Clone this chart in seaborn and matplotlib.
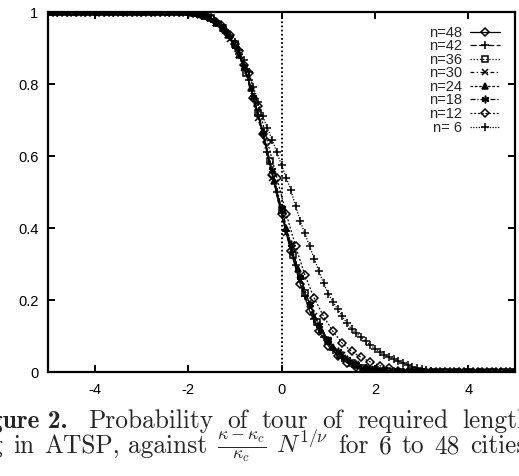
import matplotlib
matplotlib.use("Agg")
import matplotlib.pyplot as plt
import seaborn as sns

# values (scaled variable vs probability)
x48 = [-5.0, -4.8, -4.6, -4.4, -4.2, -4.0, -3.8, -3.6, -3.4, -3.2, -3.0, -2.8, -2.6, -2.4, -2.2, -2.0,
       -1.8, -1.6, -1.4, -1.2, -1.0, -0.8, -0.6, -0.4, -0.2, 0.0, 0.2, 0.4, 0.6, 0.8, 1.0, 1.2, 1.4, 1.6, 1.8, 2.0,
       2.2, 2.4, 2.6, 2.8, 3.0, 3.2, 3.4, 3.6, 3.8, 4.0, 4.2, 4.4, 4.6, 4.8, 5.0]
y48 = [1.0, 1.0, 1.0, 1.0, 1.0, 1.0, 1.0, 1.0, 1.0, 1.0, 1.0, 1.0, 1.0, 1.0, 1.0, 1.0,
       0.996, 0.988, 0.972, 0.948, 0.91, 0.852, 0.762, 0.66, 0.548, 0.438, 0.335, 0.245, 0.17, 0.113, 0.073, 0.045,
       0.026, 0.014, 0.007, 0.003,
       0.0, 0.0, 0.0, 0.0, 0.0, 0.0, 0.0, 0.0, 0.0, 0.0, 0.0, 0.0, 0.0, 0.0, 0.0]

x42 = [-4.9, -4.7, -4.5, -4.3, -4.1, -3.9, -3.7, -3.5, -3.3, -3.1, -2.9, -2.7, -2.5, -2.3, -2.1,
       -1.9, -1.7, -1.5, -1.3, -1.1, -0.9, -0.7, -0.5, -0.3, -0.1, 0.1, 0.3, 0.5, 0.7, 0.9, 1.1, 1.3, 1.5, 1.7, 1.9, 2.1,
       2.3, 2.5, 2.7, 2.9, 3.1, 3.3, 3.5, 3.7, 3.9, 4.1, 4.3, 4.5, 4.7, 4.9]
y42 = [1.0, 1.0, 1.0, 1.0, 1.0, 1.0, 1.0, 1.0, 1.0, 1.0, 1.0, 1.0, 1.0, 1.0, 1.0,
       0.997, 0.992, 0.981, 0.962, 0.93, 0.882, 0.81, 0.715, 0.61, 0.5, 0.392, 0.296, 0.212, 0.146, 0.097, 0.062,
       0.038, 0.022, 0.011, 0.005, 0.002,
       0.0, 0.0, 0.0, 0.0, 0.0, 0.0, 0.0, 0.0, 0.0, 0.0, 0.0, 0.0, 0.0, 0.0]

x36 = [-5.0, -4.75, -4.5, -4.25, -4.0, -3.75, -3.5, -3.25, -3.0, -2.75, -2.5, -2.25, -2.0,
       -1.75, -1.5, -1.25, -1.0, -0.75, -0.5, -0.25, 0.0, 0.25, 0.5, 0.75, 1.0, 1.25, 1.5, 1.75, 2.0, 2.25,
       2.5, 2.75, 3.0, 3.25, 3.5, 3.75, 4.0, 4.25, 4.5, 4.75, 5.0]
y36 = [1.0, 1.0, 1.0, 1.0, 1.0, 1.0, 1.0, 1.0, 1.0, 1.0, 1.0, 1.0, 1.0,
       0.995, 0.982, 0.955, 0.91, 0.83, 0.72, 0.585, 0.45, 0.325, 0.22, 0.14, 0.085, 0.048, 0.026, 0.012, 0.005, 0.002,
       0.0, 0.0, 0.0, 0.0, 0.0, 0.0, 0.0, 0.0, 0.0, 0.0, 0.0]

x30 = [-5.0, -4.7, -4.4, -4.1, -3.8, -3.5, -3.2, -2.9, -2.6, -2.3, -2.0,
       -1.7, -1.4, -1.1, -0.8, -0.5, -0.2, 0.1, 0.4, 0.7, 1.0, 1.3, 1.6, 1.9, 2.2,
       2.5, 2.8, 3.1, 3.4, 3.7, 4.0, 4.3, 4.6, 4.9]
y30 = [1.0, 1.0, 1.0, 1.0, 1.0, 1.0, 1.0, 1.0, 1.0, 1.0, 1.0,
       0.992, 0.97, 0.925, 0.845, 0.705, 0.54, 0.385, 0.255, 0.155, 0.088, 0.046, 0.022, 0.009, 0.003,
       0.0, 0.0, 0.0, 0.0, 0.0, 0.0, 0.0, 0.0, 0.0]

x24 = [-4.9, -4.65, -4.4, -4.15, -3.9, -3.65, -3.4, -3.15, -2.9, -2.65, -2.4, -2.15,
       -1.9, -1.65, -1.4, -1.15, -0.9, -0.65, -0.4, -0.15, 0.1, 0.35, 0.6, 0.85, 1.1, 1.35, 1.6, 1.85, 2.1,
       2.35, 2.6, 2.85, 3.1, 3.35, 3.6, 3.85, 4.1, 4.35, 4.6, 4.85]
y24 = [1.0, 1.0, 1.0, 1.0, 1.0, 1.0, 1.0, 1.0, 1.0, 1.0, 1.0, 1.0,
       0.997, 0.988, 0.97, 0.935, 0.88, 0.79, 0.67, 0.53, 0.4, 0.285, 0.19, 0.118, 0.07, 0.038, 0.019, 0.008, 0.003,
       0.0, 0.0, 0.0, 0.0, 0.0, 0.0, 0.0, 0.0, 0.0, 0.0, 0.0]

x18 = [-4.8, -4.6, -4.4, -4.2, -4.0, -3.8, -3.6, -3.4, -3.2, -3.0, -2.8, -2.6, -2.4, -2.2,
       -2.0, -1.8, -1.6, -1.4, -1.2, -1.0, -0.8, -0.6, -0.4, -0.2, 0.0, 0.2, 0.4, 0.6, 0.8, 1.0, 1.2, 1.4, 1.6, 1.8,
       2.0, 2.2,
       2.4, 2.6, 2.8, 3.0, 3.2, 3.4, 3.6, 3.8, 4.0, 4.2, 4.4, 4.6, 4.8, 5.0]
y18 = [1.0, 1.0, 1.0, 1.0, 1.0, 1.0, 1.0, 1.0, 1.0, 1.0, 1.0, 1.0, 1.0, 1.0,
       0.998, 0.994, 0.986, 0.971, 0.946, 0.906, 0.848, 0.765, 0.665, 0.56, 0.455, 0.355, 0.265, 0.19, 0.13, 0.088,
       0.058, 0.036, 0.022, 0.012, 0.006, 0.002,
       0.0, 0.0, 0.0, 0.0, 0.0, 0.0, 0.0, 0.0, 0.0, 0.0, 0.0, 0.0, 0.0, 0.0]

x12 = [-4.9, -4.7, -4.5, -4.3, -4.1, -3.9, -3.7, -3.5, -3.3, -3.1, -2.9, -2.7, -2.5, -2.3, -2.1,
       -1.9, -1.7, -1.5, -1.3, -1.1, -0.9, -0.7, -0.5, -0.3, -0.1, 0.1, 0.3, 0.5, 0.7, 0.9, 1.1, 1.3, 1.5, 1.7, 1.9,
       2.1, 2.3, 2.5, 2.7,
       2.9, 3.1, 3.3, 3.5, 3.7, 3.9, 4.1, 4.3, 4.5, 4.7, 4.9]
y12 = [1.0, 1.0, 1.0, 1.0, 1.0, 1.0, 1.0, 1.0, 1.0, 1.0, 1.0, 1.0, 1.0, 1.0, 1.0,
       0.997, 0.992, 0.982, 0.964, 0.936, 0.892, 0.83, 0.74, 0.64, 0.54, 0.44, 0.35, 0.27, 0.205, 0.155, 0.113,
       0.08, 0.057, 0.041, 0.028, 0.018, 0.01, 0.004, 0.001,
       0.0, 0.0, 0.0, 0.0, 0.0, 0.0, 0.0, 0.0, 0.0, 0.0, 0.0]

x6 = [-5.0, -4.8, -4.6, -4.4, -4.2, -4.0, -3.8, -3.6, -3.4, -3.2, -3.0, -2.8, -2.6, -2.4, -2.2,
      -2.0, -1.9, -1.8, -1.7, -1.6, -1.5, -1.4, -1.3, -1.2, -1.1, -1.0, -0.9, -0.8, -0.7, -0.6, -0.5,
      -0.4, -0.3, -0.2, -0.1, 0.0, 0.1, 0.2, 0.3, 0.4, 0.5, 0.6, 0.7, 0.8, 0.9, 1.0, 1.1, 1.2, 1.3, 1.4,
      1.5, 1.6, 1.7, 1.8, 1.9, 2.0, 2.1, 2.2, 2.3, 2.4, 2.5, 2.6, 2.7, 2.8, 2.9, 3.0, 3.1, 3.2, 3.3, 3.4,
      3.6, 3.8, 4.0, 4.2, 4.4, 4.6, 4.8, 5.0]
y6 = [1.0, 1.0, 1.0, 1.0, 1.0, 1.0, 1.0, 1.0, 1.0, 1.0, 1.0, 1.0, 1.0, 1.0, 1.0,
      0.998, 0.996, 0.994, 0.991, 0.987, 0.981, 0.973, 0.963, 0.951, 0.937, 0.918, 0.895, 0.868, 0.832, 0.792, 0.75,
      0.71, 0.677, 0.645, 0.61, 0.575, 0.54, 0.505, 0.462, 0.42, 0.385, 0.35, 0.315, 0.28, 0.247, 0.218, 0.195,
      0.175, 0.155, 0.135, 0.12, 0.108, 0.096, 0.085, 0.075, 0.065, 0.056, 0.048, 0.041, 0.035, 0.03, 0.025,
      0.02, 0.015, 0.011, 0.008, 0.005, 0.003, 0.001, 0.0,
      0.0, 0.0, 0.0, 0.0, 0.0, 0.0, 0.0, 0.0]

labels = ["n=48", "n=42", "n=36", "n=30", "n=24", "n=18", "n=12", "n= 6"]
xticks = [-4, -2, 0, 2, 4]
xtick_labels = ["-4", "-2", "0", "2", "4"]
yticks = [0, 0.2, 0.4, 0.6, 0.8, 1]
ytick_labels = ["0", "0.2", "0.4", "0.6", "0.8", "1"]

# caption words (the scan is cropped on both sides of the page)
line1_words = ["Probability", "of", "tour", "of", "required", "length", "existing"]
line2_left = ["scaling", "in", "ATSP,"]
line2_right = ["against", r"$\frac{\kappa-\kappa_c}{\kappa_c}$", r"$N^{1/\nu}$",
               "for", "6", "to", "48", "cities."]

series = [(x48, y48), (x42, y42), (x36, y36), (x30, y30),
          (x24, y24), (x18, y18), (x12, y12), (x6, y6)]

# gnuplot-like point types and dash patterns
markers = ["D", "+", "s", "x", "^", (6, 2, 0), "D", "+"]
filled = [False, True, False, True, True, True, False, True]
msizes = [3.6, 5.5, 4.0, 4.5, 4.3, 5.5, 4.0, 6.0]
dashes = ["-", (0, (5, 2)), (0, (1, 1.5)), (0, (3, 2, 1, 2)), (0, (2, 1.5)),
          (0, (4, 1.5, 1, 1.5)), (0, (1.5, 1.5)), (0, (1, 1.2))]

sns.set_style("ticks")
plt.rcParams['font.family'] = ['Liberation Sans', 'DejaVu Sans']
plt.rcParams['axes.unicode_minus'] = False
plt.rcParams['mathtext.fontset'] = 'cm'

fig = plt.figure(figsize=(5.19, 4.76), dpi=100)
ax = fig.add_axes([48 / 519, 104 / 476, 467 / 519, 360 / 476])

for (xs, ys), lab, mk, fl, ms, ls in zip(series, labels, markers, filled, msizes, dashes):
    sns.lineplot(x=xs, y=ys, ax=ax, color="black", estimator=None, label=lab,
                 marker=mk, markersize=ms, linestyle=ls, linewidth=0.9,
                 markerfacecolor=("black" if fl else "none"),
                 markeredgecolor="black", markeredgewidth=1.1)

ax.axvline(0, color="black", linestyle=(0, (1, 1.3)), linewidth=1.3)

ax.set_xlim(-5, 5)
ax.set_ylim(0, 1)
ax.set_xticks(xticks)
ax.set_xticklabels(xtick_labels)
ax.set_yticks(yticks)
ax.set_yticklabels(ytick_labels)
ax.set_xlabel("")
ax.set_ylabel("")
ax.tick_params(direction="in", length=5, width=1.4, top=True, right=True,
               labelsize=10.5, colors="black")
ax.tick_params(axis="x", pad=8)
ax.tick_params(axis="y", pad=7)
for sp in ax.spines.values():
    sp.set_linewidth(1.6)
    sp.set_color("black")

handles, labs = ax.get_legend_handles_labels()
leg = ax.legend(handles, labs, loc="upper right", bbox_to_anchor=(0.968, 0.962),
                frameon=False, markerfirst=False, fontsize=10.5, handlelength=2.05,
                handletextpad=0.55, labelspacing=-0.03, borderaxespad=0, borderpad=0)

# caption: words laid out one after another with measured widths
renderer = fig.canvas.get_renderer()
H = 476

probe = fig.text(0, 0, "Probability", fontsize=18, family="cmr10")
cap = 18 * 125 / probe.get_window_extent(renderer).width
probe.remove()


def flow(words, x0, y, gap, leftwards=False, family="cmr10"):
    x = x0
    for w in words:
        t = fig.text(x / 519, 1 - y / H, w, ha=("right" if leftwards else "left"),
                     va="baseline", fontsize=cap, family=family)
        bb = t.get_window_extent(renderer)
        x = (bb.x0 - gap) if leftwards else (bb.x1 + gap)


flow(["Figure 2."], 68, 428, 0, leftwards=True, family="cmb10")
flow(line1_words, 88, 428, 14)
flow(line2_left[::-1], 120, 453, 10, leftwards=True)
flow(line2_right, 128, 453, 10)

fig.savefig("out.png", dpi=100)
